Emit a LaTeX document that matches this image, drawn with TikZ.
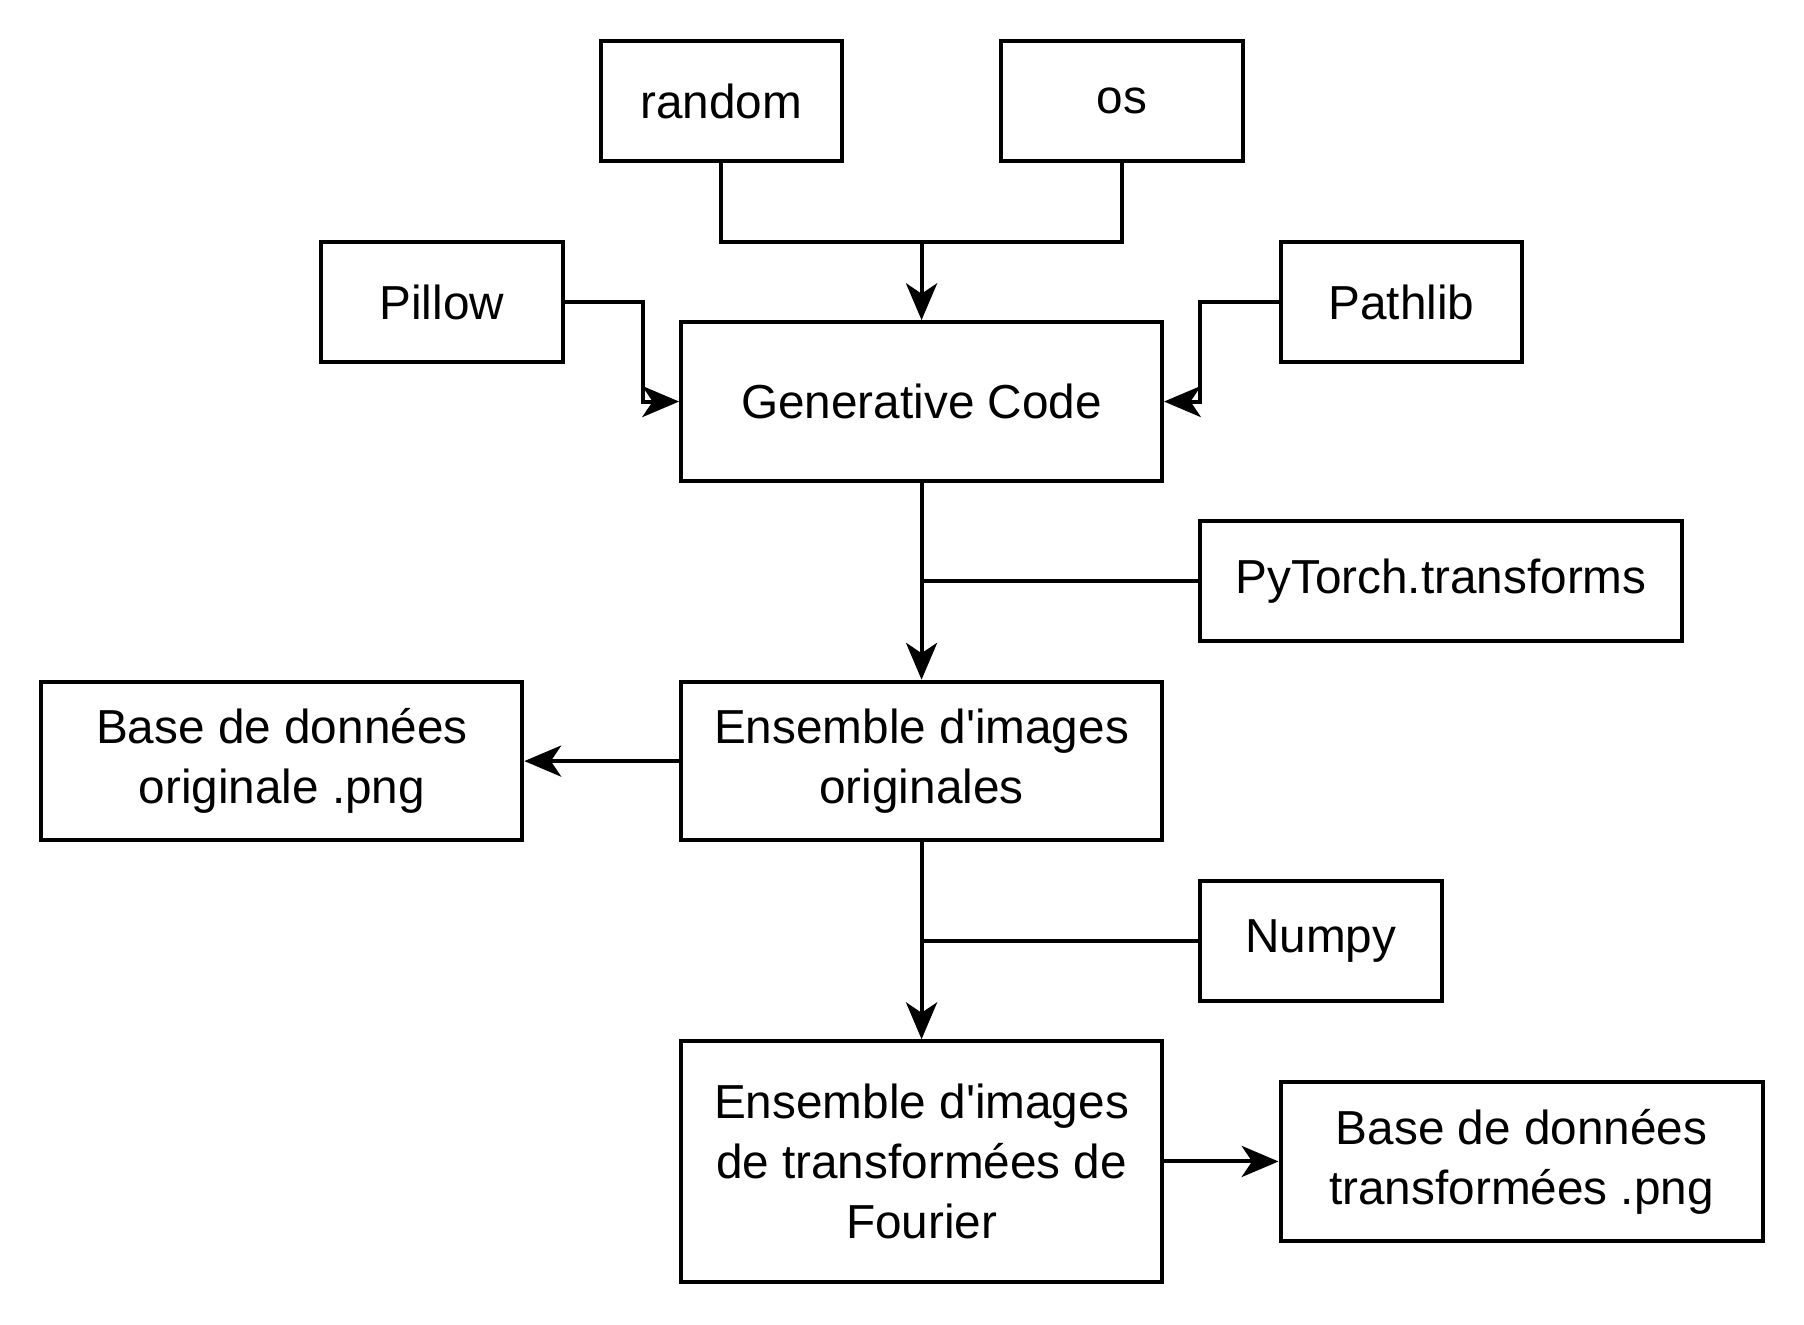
\documentclass[tikz,border=0pt]{standalone}
\usepackage{fontspec}
\setmainfont{Liberation Sans}
\usepackage{tikz}
\usetikzlibrary{arrows.meta}

\begin{document}
\begin{tikzpicture}[
    box/.style={rectangle, draw=black, line width=1pt, fill=white, minimum width=2.1cm, minimum height=1.04cm, inner sep=0pt},
    bigbox/.style={box, minimum width=4.18cm, minimum height=1.38cm},
    arrow/.style={-{Stealth[length=0.32cm, width=0.27cm, inset=0.09cm]}, line width=1pt},
    link/.style={line width=1pt},
    every node/.style={align=center, font=\fontsize{11.8pt}{14.8pt}\selectfont}
]
\useasboundingbox (0,0) rectangle (15.68,-11.51);

% Libraries
\node[box] (random) at (6.27,-0.88) {random};
\node[box] (os) at (9.75,-0.88) {os};
\node[box] (pillow) at (3.84,-2.625) {Pillow};
\node[box] (pathlib) at (12.18,-2.625) {Pathlib};
\node[box, minimum width=4.19cm] (pytorch) at (12.525,-5.05) {PyTorch.transforms};
\node[box] (numpy) at (11.48,-8.18) {Numpy};

% Main chain
\node[bigbox] (gen) at (8.01,-3.49) {Generative Code};
\node[bigbox] (orig) at (8.01,-6.615) {Ensemble d\textquotesingle images\\originales};
\node[bigbox, minimum height=2.09cm] (fourier) at (8.01,-10.095) {Ensemble d\textquotesingle images\\de transformées de\\Fourier};

% Databases
\node[bigbox] (baseorig) at (2.45,-6.615) {Base de données\\originale .png};
\node[bigbox, minimum width=4.19cm] (basetrans) at (13.225,-10.095) {Base de données\\transformées .png};

% Connectors
\coordinate (top) at (8.01,-2.10);
\draw[link] (random.south) |- (top) -| (os.south);
\draw[arrow] (top) -- (gen.north);
\draw[arrow] (pillow.east) -- ++(0.68,0) |- (gen.west);
\draw[arrow] (pathlib.west) -- ++(-0.68,0) |- (gen.east);
\draw[arrow] (gen.south) -- (orig.north);
\draw[link] (pytorch.west) -- (pytorch.west -| gen.south);
\draw[arrow] (orig.west) -- (baseorig.east);
\draw[arrow] (orig.south) -- (fourier.north);
\draw[link] (numpy.west) -- (numpy.west -| orig.south);
\draw[arrow] (fourier.east) -- (basetrans.west);

\end{tikzpicture}
\end{document}
